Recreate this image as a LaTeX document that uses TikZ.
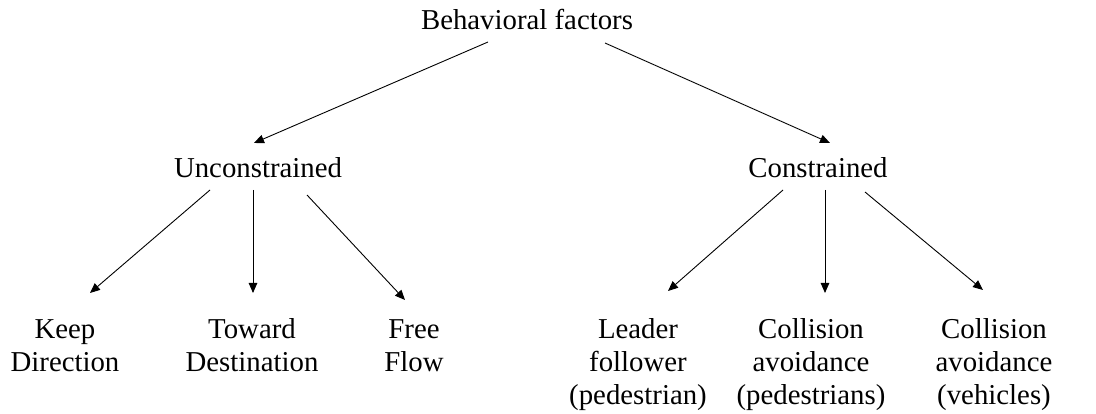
\documentclass[tikz,border=0pt]{standalone}
\usepackage{fontspec}
\setmainfont{Liberation Serif}
\usetikzlibrary{arrows.meta,calc}
\begin{document}
\begin{tikzpicture}[x=1pt,y=-1pt,
  lbl/.style={inner sep=0pt, anchor=base, align=center, font=\fontsize{28.8pt}{33pt}\selectfont},
  edge/.style={line width=0.9pt, -{Triangle[length=10pt,width=8.5pt]}}]
\useasboundingbox (0,0) rectangle (1096,414);
\node[lbl] (top) at (527,30) {Behavioral factors};
\node[lbl] (un) at (258,178) {Unconstrained};
\node[lbl] (con) at (818,178) {Constrained};
\node[lbl] (kd) at (65,371) {Keep\\Direction};
\node[lbl] (td) at (252,371) {Toward\\Destination};
\node[lbl] (ff) at (414,371) {Free\\Flow};
\node[lbl] (lf) at (638,404) {Leader\\follower\\(pedestrian)};
\node[lbl] (cp) at (811,404) {Collision\\avoidance\\(pedestrians)};
\node[lbl] (cv) at (994,404) {Collision\\avoidance\\(vehicles)};
\draw[edge] ($(top.base)+(-39,12)$) -- ($(un.base)+(-4,-35)$);
\draw[edge] ($(top.base)+(78,13)$) -- ($(con.base)+(12,-35)$);
\draw[edge] ($(un.base)+(-48,12)$) -- ($(kd.base)+(25,-78)$);
\draw[edge] ($(un.base)+(-5,12)$) -- ($(td.base)+(1,-78)$);
\draw[edge] ($(un.base)+(49,17)$) -- ($(ff.base)+(-9,-71)$);
\draw[edge] ($(con.base)+(-35,12)$) -- ($(lf.base)+(30,-113)$);
\draw[edge] ($(con.base)+(7,12)$) -- ($(cp.base)+(14,-111)$);
\draw[edge] ($(con.base)+(47,14)$) -- ($(cv.base)+(-11,-114)$);
\end{tikzpicture}
\end{document}
